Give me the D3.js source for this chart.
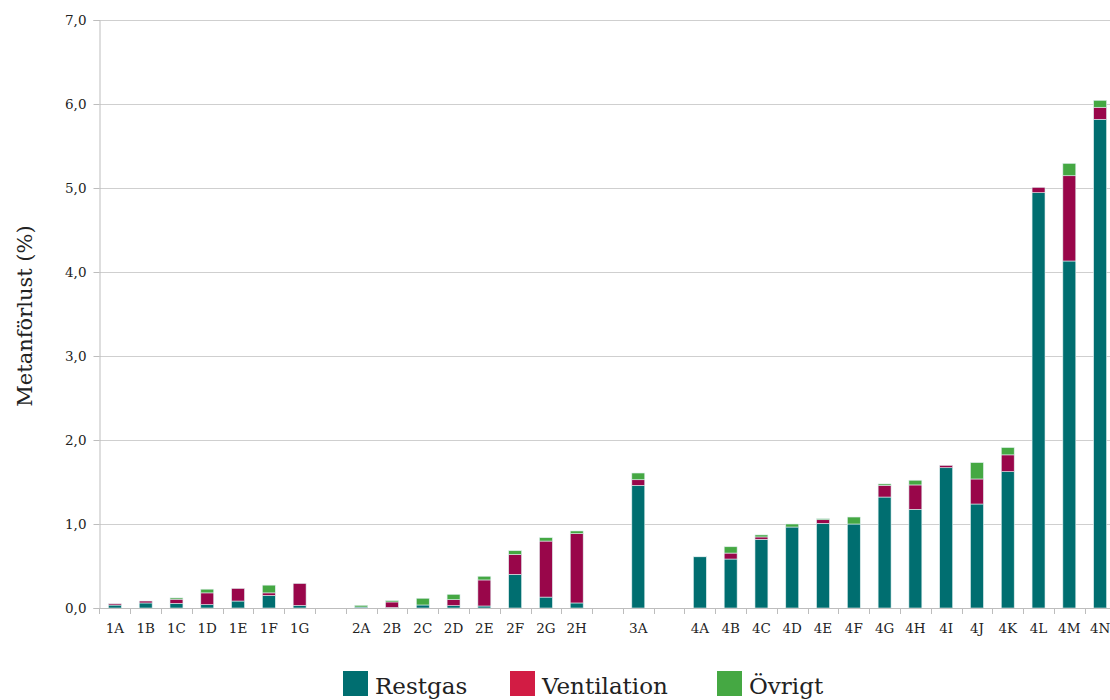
<!DOCTYPE html>
<html><head><meta charset="utf-8">
<script src="https://cdn.jsdelivr.net/npm/d3@7"></script>
<style>body{margin:0;background:#fff}svg{display:block}</style>
</head><body>
<svg id="c" width="1110" height="700"></svg>
<script>
const categories = ["1A","1B","1C","1D","1E","1F","1G","","2A","2B","2C","2D","2E","2F","2G","2H","","3A","","4A","4B","4C","4D","4E","4F","4G","4H","4I","4J","4K","4L","4M","4N"];
const restgas     = [0.035,0.06,0.055,0.04,0.083,0.15,0.03,0, 0.012,0.005,0.036,0.028,0.024,0.40,0.13,0.06,0, 1.46,0, 0.61,0.583,0.818,0.964,1.008,1.0,1.321,1.175,1.67,1.238,1.623,4.944,4.131,5.818];
const ventilation = [0.015,0.023,0.05,0.14,0.15,0.03,0.262,0, 0,0.067,0,0.071,0.31,0.238,0.667,0.825,0, 0.067,0, 0.005,0.071,0.028,0,0.043,0,0.14,0.29,0.028,0.298,0.2,0.064,1.015,0.143];
const ovrigt      = [0,0,0.015,0.044,0,0.092,0,0, 0.02,0.016,0.08,0.064,0.044,0.044,0.04,0.032,0, 0.08,0, 0,0.075,0.024,0.036,0.012,0.083,0.016,0.056,0,0.195,0.087,0,0.147,0.083];
const seriesNames = ["Restgas","Ventilation","Övrigt"];
const yTicks = [0,1,2,3,4,5,6,7];

const barColors = {"Restgas":"#006e70","Ventilation":"#99064a","Övrigt":"#45a843"};
const legendColors = {"Restgas":"#006e70","Ventilation":"#d21c44","Övrigt":"#45a843"};

const keys = categories.map((c,i)=> c===""? "_"+i : c);
const rows = keys.map((k,i)=>({key:k, "Restgas":restgas[i], "Ventilation":ventilation[i], "Övrigt":ovrigt[i]}));

const svg = d3.select("#c");
const font = "'DejaVu Serif', Georgia, serif";
const x0 = 99.5, y0 = 608, yTop = 20;

const x = d3.scaleBand().domain(keys).range([x0, x0+1016]).paddingInner(0.58).paddingOuter(0.29);
const y = d3.scaleLinear().domain([0,7]).range([y0, yTop]);

// gridlines
svg.append("g").selectAll("line").data(yTicks.slice(1)).join("line")
  .attr("x1", x0).attr("x2", 1110).attr("y1", d=>Math.round(y(d))+0.5).attr("y2", d=>Math.round(y(d))+0.5)
  .attr("stroke","#cfcfcf").attr("stroke-width",1);

// y axis
const yAxis = svg.append("g").attr("transform",`translate(${x0},0)`)
  .call(d3.axisLeft(y).tickValues(yTicks).tickSize(6).tickPadding(7).tickFormat(d=>d3.format(".1f")(d).replace(".",",")));
yAxis.select(".domain").attr("stroke","#bdbdbd");
yAxis.selectAll(".tick line").attr("stroke","#bdbdbd");
yAxis.selectAll("text").attr("font-family",font).attr("font-size",13.5).attr("fill","#222");

// bars
const stack = d3.stack().keys(seriesNames)(rows);
svg.append("g").selectAll("g").data(stack).join("g")
  .attr("fill", s=>barColors[s.key])
  .selectAll("rect").data(s=>s.filter(d=>d[1]-d[0]>0)).join("rect")
  .attr("x", d=>x(d.data.key)).attr("width", x.bandwidth())
  .attr("y", d=>y(d[1])).attr("height", d=>y(d[0])-y(d[1]))
  .attr("stroke","#dfeeee").attr("stroke-width",0.6);

// x axis
svg.append("line").attr("x1",x0).attr("x2",1110).attr("y1",y0+0.5).attr("y2",y0+0.5).attr("stroke","#bdbdbd");
const step = x.step();
const bounds = keys.map(k=>x(k)+x.bandwidth()/2-step/2).concat([x(keys[keys.length-1])+x.bandwidth()/2+step/2]);
svg.append("g").selectAll("line").data(bounds).join("line")
  .attr("x1",d=>Math.round(d)+0.5).attr("x2",d=>Math.round(d)+0.5).attr("y1",y0).attr("y2",y0+6)
  .attr("stroke","#bdbdbd");
svg.append("g").selectAll("text").data(keys.map((k,i)=>({k, label:categories[i]}))).join("text")
  .attr("x", d=>x(d.k)+x.bandwidth()/2).attr("y", 633).attr("text-anchor","middle")
  .attr("font-family",font).attr("font-size",13.5).attr("fill","#222").text(d=>d.label);

// y title
svg.append("text").attr("transform","translate(32,316) rotate(-90)").attr("text-anchor","middle")
  .attr("font-family",font).attr("font-size",21).attr("fill","#222").text("Metanförlust (%)");

// legend
const legX = [343, 510, 717];
const leg = svg.append("g").selectAll("g").data(seriesNames).join("g")
  .attr("transform",(d,i)=>`translate(${legX[i]},671)`);
leg.append("rect").attr("width",25).attr("height",25).attr("fill",d=>legendColors[d]);
leg.append("text").attr("x",32).attr("y",23).attr("font-family",font).attr("font-size",23).attr("fill","#222").text(d=>d);
</script>
</body></html>
